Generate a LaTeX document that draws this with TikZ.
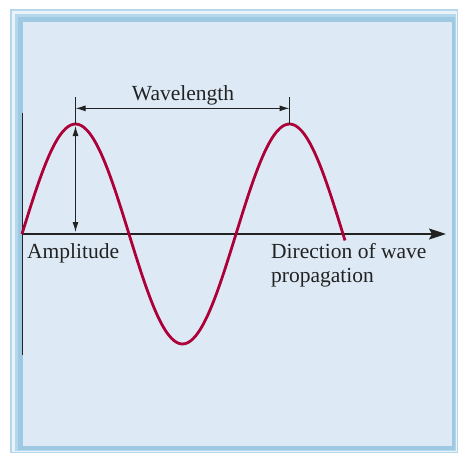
\documentclass[tikz,border=0pt]{standalone}
\usepackage{fontspec}
\setmainfont{Liberation Serif}
\usetikzlibrary{arrows.meta,positioning,calc}
\definecolor{ink}{HTML}{222222}
\definecolor{wash}{HTML}{DDEAF5}
\definecolor{rim}{HTML}{9DC9E3}
\definecolor{rimlight}{HTML}{B4D7EC}
\definecolor{crest}{HTML}{AE0038}
\tikzset{lbl/.style={font=\fontsize{21.5}{24}\selectfont,text=ink,inner sep=0pt},
  arr/.style={{Latex[length=10pt,width=6pt]}-{Latex[length=10pt,width=6pt]},draw=ink,line width=1pt},
  axis/.style={-{Stealth[length=17pt,width=11pt,inset=3pt]},draw=ink,line width=1.3pt},
  tick/.style={draw=ink,line width=1pt},
  wave/.style={draw=crest,line width=2.8pt}}

\begin{document}
\begin{tikzpicture}[x=1pt,y=-1pt]
\useasboundingbox (0,0) rectangle (460,455);
% frame
\fill[rimlight] (10,9) rectangle (458,453);
\fill[white!70!rimlight] (12,11) rectangle (457,452);
\fill[rimlight] (15,14) rectangle (456,451);
\fill[rim] (18,17) rectangle (455,450);
\fill[wash] (23,22) rectangle (452,446);
% axes
\coordinate (o) at (22,234);
\coordinate (e) at (446,234);
\coordinate (vt) at (22,113);
\coordinate (vb) at (22,355);
\draw[tick] (vt)--(vb);
\draw[axis] (o)--(e);
% the wave
\draw[wave] plot[domain=22:345,samples=120,smooth] (\x,{234-110*sin((\x-22)/214*360)});
% wavelength
\coordinate (p1) at (75.5,124);
\coordinate (p2) at (289.5,124);
\coordinate (t1) at (75.5,97);
\coordinate (t2) at (289.5,97);
\draw[tick] (t1)--(p1);\draw[tick] (t2)--(p2);
\draw[arr] ($(t1)!0.42!(p1)$)--($(t2)!0.42!(p2)$);
\node[lbl,anchor=base] (wl) at (183,100) {Wavelength};
% amplitude
\coordinate (a1) at (75.5,126);
\coordinate (a2) at (75.5,232);
\draw[arr] (a1)--(a2);
\node[lbl,anchor=base west] (amp) at (27,258) {Amplitude};
\node[lbl,anchor=base west,align=left] (dir) at (271,282) {Direction of wave\\propagation};
\end{tikzpicture}
\end{document}
